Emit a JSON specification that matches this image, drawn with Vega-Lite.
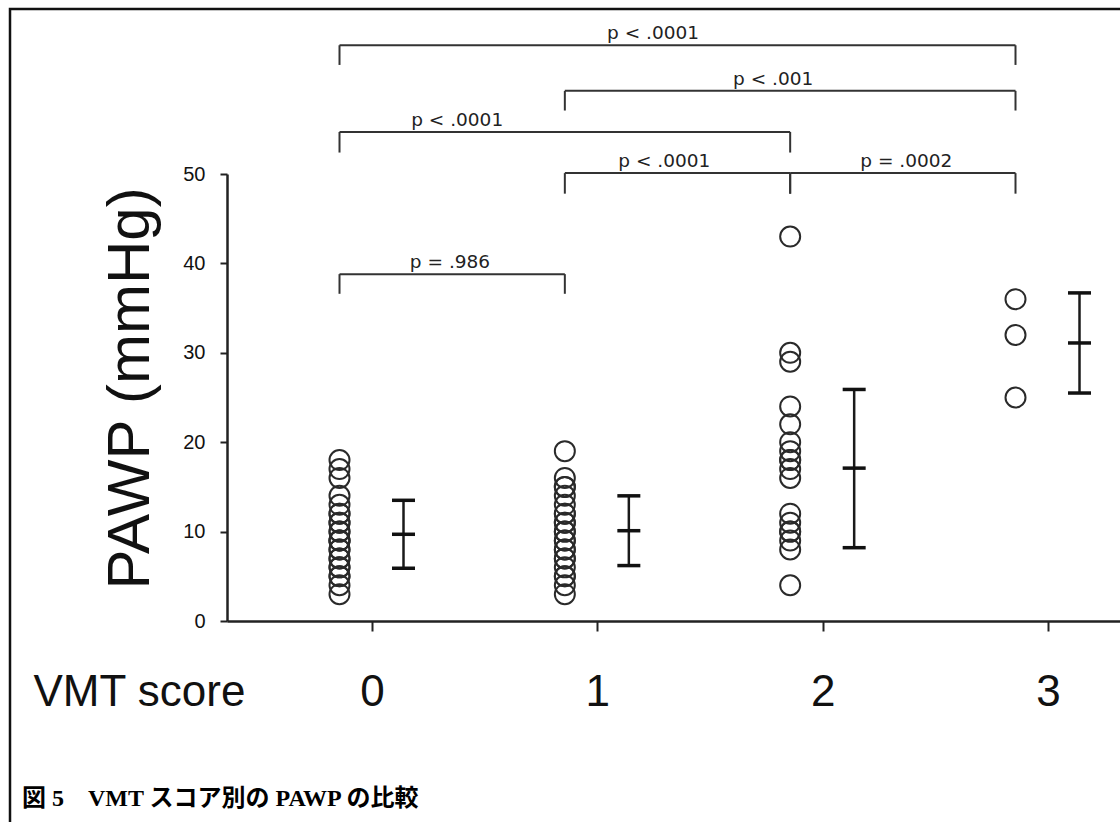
{
  "$schema": "https://vega.github.io/schema/vega-lite/v6.json",
  "width": 1113,
  "height": 816,
  "autosize": {"type": "none"},
  "padding": {"left": 10, "top": 9, "right": -3, "bottom": -3},
  "background": "white",
  "view": {"stroke": "#111111", "strokeWidth": 2.5, "fill": "white"},
  "title": {
    "text": "図 5　VMT スコア別の PAWP の比較",
    "orient": "bottom",
    "anchor": "start",
    "frame": "group",
    "baseline": "alphabetic",
    "offset": -19,
    "dx": 12,
    "font": "Liberation Serif, Noto Sans CJK JP",
    "fontSize": 24,
    "fontWeight": "bold",
    "color": "#000000"
  },
  "config": {
    "font": "Liberation Sans",
    "axis": {"grid": false, "labelFont": "Liberation Sans", "titleFont": "Liberation Sans"},
    "axisX": {
      "offset": -204,
      "domainColor": "#222222", "domainWidth": 2.5,
      "tickColor": "#222222", "tickWidth": 2, "tickSize": 10,
      "labelFontSize": 44, "labelColor": "#111111", "labelBaseline": "alphabetic", "labelPadding": 74,
      "labelFlush": false, "labelOverlap": false,
      "titleFontSize": 44, "titleFontWeight": "normal", "titleColor": "#111111",
      "titleAlign": "left", "titleBaseline": "alphabetic", "titleX": 23, "titleY": 84
    },
    "axisY": {
      "offset": -217,
      "domainColor": "#222222", "domainWidth": 2.5,
      "tickColor": "#222222", "tickWidth": 2, "tickSize": 7,
      "labelFontSize": 20, "labelColor": "#111111", "labelPadding": 15,
      "labelFlush": false, "labelOverlap": false,
      "titleFontSize": 60, "titleFontWeight": "normal", "titleColor": "#111111", "titlePadding": 21,
      "titleY": 379
    }
  },
  "datasets": {
    "points": [
      {"score": 0, "pawp": 18}, {"score": 0, "pawp": 17}, {"score": 0, "pawp": 16}, {"score": 0, "pawp": 14},
      {"score": 0, "pawp": 13}, {"score": 0, "pawp": 12}, {"score": 0, "pawp": 12}, {"score": 0, "pawp": 11},
      {"score": 0, "pawp": 11}, {"score": 0, "pawp": 10}, {"score": 0, "pawp": 10}, {"score": 0, "pawp": 9},
      {"score": 0, "pawp": 9}, {"score": 0, "pawp": 9}, {"score": 0, "pawp": 8}, {"score": 0, "pawp": 8},
      {"score": 0, "pawp": 7}, {"score": 0, "pawp": 7}, {"score": 0, "pawp": 6}, {"score": 0, "pawp": 6},
      {"score": 0, "pawp": 5}, {"score": 0, "pawp": 5}, {"score": 0, "pawp": 4}, {"score": 0, "pawp": 3},
      {"score": 1, "pawp": 19}, {"score": 1, "pawp": 16}, {"score": 1, "pawp": 15}, {"score": 1, "pawp": 15},
      {"score": 1, "pawp": 14}, {"score": 1, "pawp": 13}, {"score": 1, "pawp": 12}, {"score": 1, "pawp": 12},
      {"score": 1, "pawp": 11}, {"score": 1, "pawp": 11}, {"score": 1, "pawp": 10}, {"score": 1, "pawp": 10},
      {"score": 1, "pawp": 9}, {"score": 1, "pawp": 9}, {"score": 1, "pawp": 8}, {"score": 1, "pawp": 8},
      {"score": 1, "pawp": 7}, {"score": 1, "pawp": 7}, {"score": 1, "pawp": 6}, {"score": 1, "pawp": 5},
      {"score": 1, "pawp": 5}, {"score": 1, "pawp": 4}, {"score": 1, "pawp": 3},
      {"score": 2, "pawp": 43}, {"score": 2, "pawp": 30}, {"score": 2, "pawp": 29}, {"score": 2, "pawp": 24},
      {"score": 2, "pawp": 22}, {"score": 2, "pawp": 20}, {"score": 2, "pawp": 19}, {"score": 2, "pawp": 18},
      {"score": 2, "pawp": 18}, {"score": 2, "pawp": 17}, {"score": 2, "pawp": 16}, {"score": 2, "pawp": 12},
      {"score": 2, "pawp": 11}, {"score": 2, "pawp": 10}, {"score": 2, "pawp": 10}, {"score": 2, "pawp": 9},
      {"score": 2, "pawp": 8}, {"score": 2, "pawp": 4},
      {"score": 3, "pawp": 36}, {"score": 3, "pawp": 32}, {"score": 3, "pawp": 25}
    ],
    "summary": [
      {"score": 0, "mean": 9.7, "lo": 5.9, "hi": 13.5},
      {"score": 1, "mean": 10.1, "lo": 6.2, "hi": 14.0},
      {"score": 2, "mean": 17.1, "lo": 8.2, "hi": 25.9},
      {"score": 3, "mean": 31.1, "lo": 25.5, "hi": 36.7}
    ],
    "brackets": [
      {"from": 0, "to": 3, "level": 64.4, "bottom": 62.2, "label": "p < .0001", "labelX": 1.247},
      {"from": 1, "to": 3, "level": 59.3, "bottom": 57.1, "label": "p < .001", "labelX": 1.78},
      {"from": 0, "to": 2, "level": 54.7, "bottom": 52.4, "label": "p < .0001", "labelX": 0.378},
      {"from": 1, "to": 2, "level": 50.1, "bottom": 47.8, "label": "p < .0001", "labelX": 1.297},
      {"from": 2, "to": 3, "level": 50.1, "bottom": 47.8, "label": "p = .0002", "labelX": 2.371},
      {"from": 0, "to": 1, "level": 38.8, "bottom": 36.6, "label": "p = .986", "labelX": 0.346}
    ]
  },
  "layer": [
    {
      "data": {"name": "points"},
      "mark": {"type": "point", "shape": "circle", "filled": false, "size": 400, "strokeWidth": 2, "color": "#2a2a2a", "opacity": 1, "xOffset": -32.5},
      "encoding": {
        "x": {
          "field": "score", "type": "quantitative",
          "scale": {"domain": [-0.6435, 3.3195], "range": [217, 1110], "nice": false, "zero": false},
          "axis": {"title": "VMT score", "values": [0, 1, 2, 3], "format": "d"}
        },
        "y": {
          "field": "pawp", "type": "quantitative",
          "scale": {"domain": [0, 50], "range": [612, 165], "nice": false, "zero": false},
          "axis": {"title": "PAWP (mmHg)", "values": [0, 10, 20, 30, 40, 50], "format": "d"}
        }
      }
    },
    {
      "data": {"name": "summary"},
      "mark": {"type": "rule", "strokeWidth": 2.5, "color": "#1a1a1a", "xOffset": 31.5},
      "encoding": {
        "x": {"field": "score", "type": "quantitative"},
        "y": {"field": "lo", "type": "quantitative"},
        "y2": {"field": "hi"}
      }
    },
    {
      "data": {"name": "summary"},
      "mark": {"type": "tick", "orient": "horizontal", "size": 23, "thickness": 3.5, "color": "#111111", "opacity": 1, "xOffset": 31.5},
      "encoding": {
        "x": {"field": "score", "type": "quantitative"},
        "y": {"field": "lo", "type": "quantitative"}
      }
    },
    {
      "data": {"name": "summary"},
      "mark": {"type": "tick", "orient": "horizontal", "size": 23, "thickness": 3.5, "color": "#111111", "opacity": 1, "xOffset": 31.5},
      "encoding": {
        "x": {"field": "score", "type": "quantitative"},
        "y": {"field": "mean", "type": "quantitative"}
      }
    },
    {
      "data": {"name": "summary"},
      "mark": {"type": "tick", "orient": "horizontal", "size": 23, "thickness": 3.5, "color": "#111111", "opacity": 1, "xOffset": 31.5},
      "encoding": {
        "x": {"field": "score", "type": "quantitative"},
        "y": {"field": "hi", "type": "quantitative"}
      }
    },
    {
      "data": {"name": "brackets"},
      "mark": {"type": "rule", "strokeWidth": 2, "color": "#333333", "xOffset": -32.5, "x2Offset": -32.5},
      "encoding": {
        "x": {"field": "from", "type": "quantitative"},
        "x2": {"field": "to"},
        "y": {"field": "level", "type": "quantitative"}
      }
    },
    {
      "data": {"name": "brackets"},
      "mark": {"type": "rule", "strokeWidth": 2, "color": "#333333", "xOffset": -32.5},
      "encoding": {
        "x": {"field": "from", "type": "quantitative"},
        "y": {"field": "level", "type": "quantitative"},
        "y2": {"field": "bottom"}
      }
    },
    {
      "data": {"name": "brackets"},
      "mark": {"type": "rule", "strokeWidth": 2, "color": "#333333", "xOffset": -32.5},
      "encoding": {
        "x": {"field": "to", "type": "quantitative"},
        "y": {"field": "level", "type": "quantitative"},
        "y2": {"field": "bottom"}
      }
    },
    {
      "data": {"name": "brackets"},
      "mark": {"type": "text", "font": "DejaVu Sans", "fontSize": 18.5, "color": "#222222", "baseline": "alphabetic", "align": "center", "dy": -6},
      "encoding": {
        "x": {"field": "labelX", "type": "quantitative"},
        "y": {"field": "level", "type": "quantitative"},
        "text": {"field": "label"}
      }
    }
  ]
}
